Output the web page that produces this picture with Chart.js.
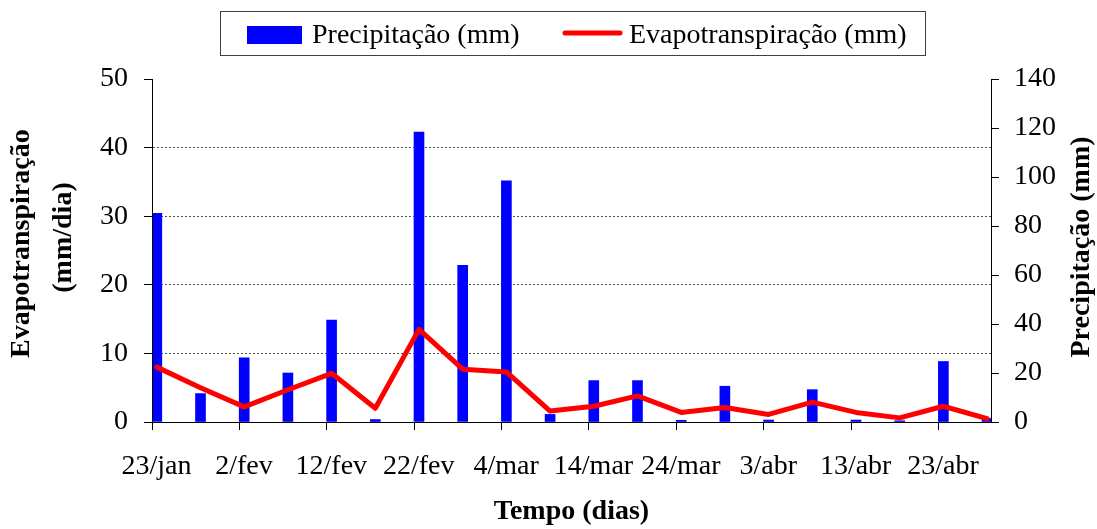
<!DOCTYPE html>
<html>
<head>
<meta charset="utf-8">
<script src="https://cdn.jsdelivr.net/npm/chart.js@4.4.1/dist/chart.umd.min.js"></script>
<style>
  html, body { margin: 0; padding: 0; background: #fff; }
  #wrap { width: 1097px; height: 529px; position: relative; }
</style>
</head>
<body>
<div id="wrap"><canvas id="c" width="1097" height="529"></canvas></div>
<script>
// ---- data ----
const categories = ['23/jan','28/jan','2/fev','7/fev','12/fev','17/fev','22/fev','27/fev','4/mar','9/mar',
                    '14/mar','19/mar','24/mar','29/mar','3/abr','8/abr','13/abr','18/abr','23/abr','28/abr'];
// day offset of each category from 23/jan
const dayOffsets = [0,5,10,15,20,25,30,35,40,45,50,55,60,65,70,75,80,85,90,95];
// Precipitação (mm) — right axis
const precipitacao = [85.2, 11.6, 26.2, 20.0, 41.6, 1.0, 118.3, 63.9, 98.4, 3.1,
                      16.9, 16.9, 0.7, 14.6, 0.8, 13.2, 0.8, 0.5, 24.7, 1.4];
// Evapotranspiração (mm/dia) — left axis
const evapotranspiracao = [8.0, 5.0, 2.2, 4.7, 7.1, 2.0, 13.5, 7.7, 7.3, 1.6,
                           2.3, 3.8, 1.4, 2.1, 1.1, 2.9, 1.4, 0.6, 2.3, 0.5];
// x tick labels (every 10 days)
const tickDays = [0,10,20,30,40,50,60,70,80,90];
const tickLabels = ['23/jan','2/fev','12/fev','22/fev','4/mar','14/mar','24/mar','3/abr','13/abr','23/abr'];

const SERIF = "'Liberation Serif', 'Times New Roman', serif";

const barData = categories.map((c, i) => ({ x: dayOffsets[i] + 0.55, y: precipitacao[i] }));
const lineData = categories.map((c, i) => ({ x: dayOffsets[i] + 0.55, y: evapotranspiracao[i] }));

const decorPlugin = {
  id: 'decor',
  afterDraw(chart) {
    const ctx = chart.ctx;
    const a = chart.chartArea;
    ctx.save();
    // axis lines (solid)
    ctx.strokeStyle = '#000';
    ctx.lineWidth = 1;
    ctx.beginPath();
    ctx.moveTo(Math.round(a.left) + 0.5, a.top); ctx.lineTo(Math.round(a.left) + 0.5, a.bottom);
    ctx.moveTo(a.left, Math.round(a.bottom) + 0.5); ctx.lineTo(a.right, Math.round(a.bottom) + 0.5);
    ctx.moveTo(Math.round(a.right) + 0.5, a.top); ctx.lineTo(Math.round(a.right) + 0.5, a.bottom);
    ctx.stroke();

    // legend box
    ctx.strokeStyle = '#404040';
    ctx.lineWidth = 1;
    ctx.strokeRect(220.5, 11.5, 705, 44);
    ctx.fillStyle = '#0000FF';
    ctx.fillRect(247, 26, 55, 18);
    ctx.strokeStyle = '#FF0000';
    ctx.lineWidth = 5;
    ctx.lineCap = 'round';
    ctx.beginPath(); ctx.moveTo(565, 33); ctx.lineTo(620, 33); ctx.stroke();
    ctx.fillStyle = '#000';
    ctx.font = '28px ' + SERIF;
    ctx.textBaseline = 'alphabetic';
    ctx.textAlign = 'left';
    ctx.fillText(chart.data.datasets[0].label, 312, 43);
    ctx.fillText(chart.data.datasets[1].label, 629, 43);

    // left axis title (two lines, first one clipped like the reference)
    ctx.font = 'bold 28px ' + SERIF;
    ctx.save();
    ctx.beginPath(); ctx.rect(0, 122, 140, 300); ctx.clip();
    ctx.translate(29, 358); ctx.rotate(-Math.PI / 2);
    ctx.textAlign = 'left';
    ctx.fillText('Evapotranspiração', 0, 0);
    ctx.restore();
    ctx.save();
    ctx.translate(71, 237.5); ctx.rotate(-Math.PI / 2);
    ctx.textAlign = 'center';
    ctx.fillText('(mm/dia)', 0, 0);
    ctx.restore();

    // right axis title
    ctx.save();
    ctx.translate(1089, 247); ctx.rotate(-Math.PI / 2);
    ctx.textAlign = 'center';
    ctx.fillText('Precipitação (mm)', 0, 0);
    ctx.restore();
    ctx.restore();
  }
};

new Chart(document.getElementById('c'), {
  data: {
    datasets: [
      {
        type: 'bar',
        label: 'Precipitação (mm)',
        data: barData,
        yAxisID: 'yR',
        backgroundColor: '#0000FF',
        borderWidth: 0,
        barThickness: 10,
        order: 2
      },
      {
        type: 'line',
        label: 'Evapotranspiração (mm)',
        data: lineData,
        yAxisID: 'y',
        borderColor: '#FF0000',
        backgroundColor: '#FF0000',
        borderWidth: 5,
        pointRadius: 0,
        tension: 0,
        borderJoinStyle: 'round',
        borderCapStyle: 'round',
        order: 1
      }
    ]
  },
  options: {
    responsive: false,
    animation: false,
    layout: { padding: { top: 79, left: 0, right: 0, bottom: 0 } },
    plugins: { legend: { display: false }, tooltip: { enabled: false }, title: { display: false } },
    scales: {
      x: {
        type: 'linear',
        position: 'bottom',
        offset: false,
        min: 0,
        max: 96,
        afterBuildTicks(scale) {
          scale.ticks = tickDays.map(v => ({ value: v }));
        },
        afterFit(scale) { scale.height = 107; },
        ticks: {
          autoSkip: false,
          maxRotation: 0,
          padding: 20,
          labelOffset: 4.5,
          color: '#000',
          font: { family: SERIF, size: 28 },
          callback(value) {
            const i = tickDays.indexOf(value);
            return i >= 0 ? tickLabels[i] : '';
          }
        },
        grid: { offset: false, drawOnChartArea: false, drawTicks: true, tickLength: 8, tickColor: '#000' },
        border: { display: true, color: '#000', width: 1 },
        title: {
          display: true,
          text: 'Tempo (dias)',
          color: '#000',
          font: { family: SERIF, size: 28, weight: 'bold' },
          padding: 0
        }
      },
      y: {
        type: 'linear',
        position: 'left',
        min: 0,
        max: 50,
        afterFit(scale) { scale.width = 152; },
        ticks: { stepSize: 10, padding: 16, color: '#000', font: { family: SERIF, size: 28 } },
        grid: {
          drawOnChartArea: true,
          drawTicks: true,
          tickLength: 8,
          tickColor: '#000',
          lineWidth: 1,
          color(ctx) {
            const v = ctx.tick && ctx.tick.value;
            return (v === 0 || v === 50) ? 'rgba(0,0,0,0)' : '#505050';
          }
        },
        border: { display: true, color: '#000', width: 1, dash: [2, 2] }
      },
      yR: {
        type: 'linear',
        position: 'right',
        min: 0,
        max: 140,
        afterFit(scale) { scale.width = 106; },
        ticks: { stepSize: 20, padding: 15, color: '#000', font: { family: SERIF, size: 28 } },
        grid: { drawOnChartArea: false, drawTicks: true, tickLength: 8, tickColor: '#000' },
        border: { display: true, color: '#000', width: 1 }
      }
    }
  },
  plugins: [decorPlugin]
});
</script>
</body>
</html>
